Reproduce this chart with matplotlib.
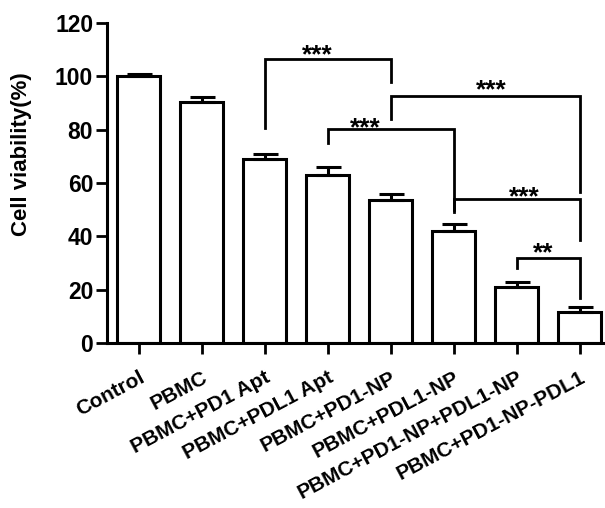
import matplotlib.pyplot as plt

plt.rcParams['font.family'] = ['Liberation Sans', 'DejaVu Sans']
plt.rcParams['font.weight'] = 'bold'

groups = ["Control", "PBMC", "PBMC+PD1 Apt", "PBMC+PDL1 Apt", "PBMC+PD1-NP",
          "PBMC+PDL1-NP", "PBMC+PD1-NP+PDL1-NP", "PBMC+PD1-NP-PDL1"]
viability = [100.0, 90.5, 68.8, 63.0, 53.7, 42.1, 20.9, 11.5]
sd = [1.0, 1.6, 2.0, 3.0, 2.3, 2.3, 1.8, 2.0]

# (left bar, right bar, bar height, left leg end, right leg end, label)
brackets = [
    (2, 4, 106.4, 80.7, 97.8, "***"),
    (4, 7, 92.7, 83.9, 56.5, "***"),
    (3, 5, 80.1, 74.9, 49.2, "***"),
    (5, 7, 53.9, 49.9, 38.4, "***"),
    (6, 7, 32.0, 28.0, 16.8, "**"),
]
star_x = [2.83, 5.6, 3.6, 6.12, 6.42]
star_y = [110.6, 97.4, 83.4, 57.6, 36.4]

fig = plt.figure(figsize=(6.05, 5.08), dpi=100)
ax = fig.add_axes([0.177, 0.325, 0.823, 0.63])

x = list(range(len(groups)))
ax.bar(x, viability, width=0.68, color='white', edgecolor='black', linewidth=2.2, zorder=2)
ax.errorbar(x, viability, yerr=[[0] * len(sd), sd], fmt='none', ecolor='black',
            elinewidth=2.2, capsize=9, capthick=2.2, zorder=3)

for (a, b, h, la, lb, lab), sx, sy in zip(brackets, star_x, star_y):
    ax.plot([a, a, b, b], [la, h, h, lb], color='black', lw=2.0, solid_joinstyle='miter')
    ax.text(sx, sy - 5.5, lab, ha='center', va='baseline', fontsize=19, fontweight='bold')

ax.set_xlim(-0.5, 7.4)
ax.set_ylim(0, 120)
ax.set_yticks(range(0, 121, 20))
ax.set_xticks(x)
ax.set_xticklabels(groups, rotation=28, ha='right', va='top', rotation_mode='anchor',
                   fontsize=15, fontweight='bold')
ax.tick_params(axis='y', labelsize=16.5, width=2.0, length=8, pad=2)
ax.tick_params(axis='x', width=2.0, length=8, pad=10)
for lbl in ax.get_yticklabels():
    lbl.set_fontweight('bold')
for lbl in ax.get_xticklabels():
    lbl.set_x(lbl.get_position()[0])

ax.spines['top'].set_visible(False)
ax.spines['right'].set_visible(False)
ax.spines['left'].set_linewidth(2.2)
ax.spines['bottom'].set_linewidth(2.2)

ax.set_ylabel("Cell viability(%)", fontsize=16, fontweight='bold')
ax.yaxis.set_label_coords(-0.15, 0.59)

fig.savefig("out.png", dpi=100, facecolor='white')
